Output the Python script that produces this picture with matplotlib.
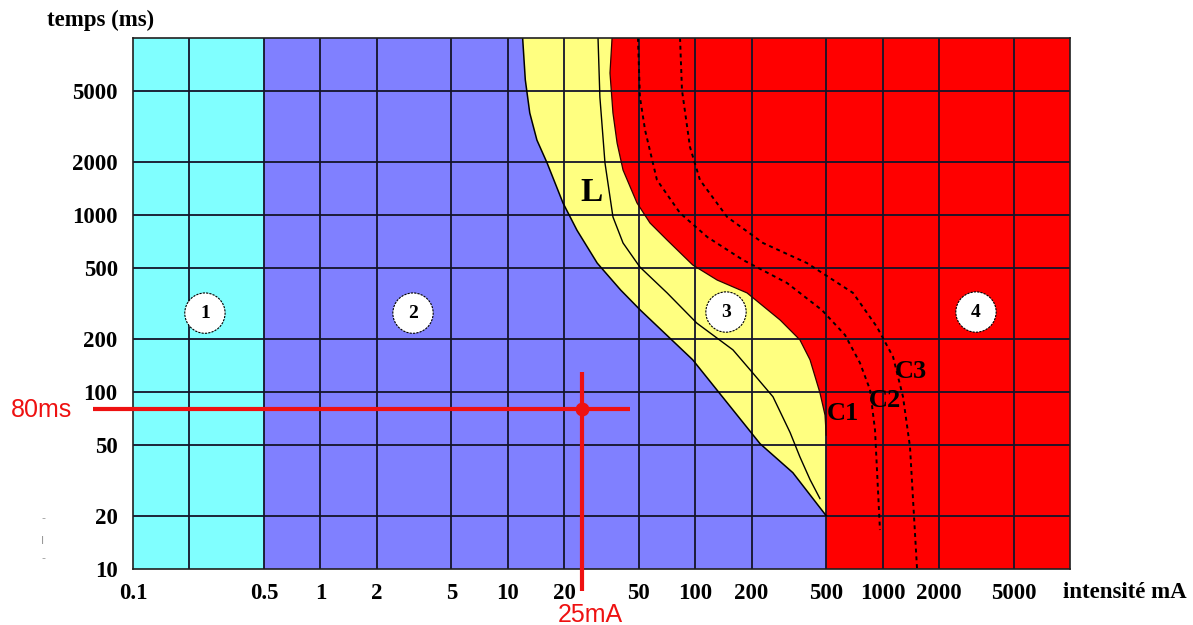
import matplotlib
matplotlib.use("Agg")
import matplotlib.pyplot as plt

# axis ticks (current in mA, time in ms)
x_ticks = [0.1, 0.5, 1, 2, 5, 10, 20, 50, 100, 200, 500, 1000, 2000, 5000]
x_labels = ["0.1", "0.5", "1", "2", "5", "10", "20", "50", "100", "200", "500",
            "1000", "2000", "5000"]
x_grid = [0.2, 0.5, 1, 2, 5, 10, 20, 50, 100, 200, 500, 1000, 2000, 5000]
y_ticks = [10, 20, 50, 100, 200, 500, 1000, 2000, 5000]
y_labels = ["10", "20", "50", "100", "200", "500", "1000", "2000", "5000"]
y_grid = [20, 50, 100, 200, 500, 1000, 2000, 5000]

# zone boundaries
zone1_limit = 0.5
b_ma = [12, 12.4, 13.1, 14.3, 16.2, 19.7, 23.4, 30, 40, 51, 97, 222, 332, 500]
b_ms = [10000, 5800, 3770, 2650, 1970, 1170, 820, 535, 377, 290, 152, 51, 35, 20]

c1_ma = [36, 35.1, 36.4, 38.3, 41.2, 48.9, 57.4, 70.8, 97, 131, 189, 284, 362, 410, 463, 493, 500]
c1_ms = [10000, 6340, 3770, 2550, 1795, 1170, 901, 722, 522, 429, 363, 255, 197, 152, 99, 74, 57]

L_ma = [30.3, 31, 33, 36.4, 41.2, 50.7, 70.8, 102, 159, 203, 260, 321, 362, 410, 463]
L_ms = [10000, 4640, 1970, 975, 695, 508, 363, 245, 173, 128, 94, 59, 43, 32, 25]

c2_ma = [49.5, 50.7, 54, 62.5, 83, 116, 180, 309, 475, 630, 757, 857, 911, 968]
c2_ms = [10000, 4640, 3020, 1577, 1026, 751, 557, 413, 290, 210, 146, 103, 61, 16.6]

c3_ma = [83, 85, 93.8, 106, 148, 230, 395, 695, 933, 1137, 1285, 1400, 1527]
c3_ms = [10000, 5080, 2420, 1577, 975, 695, 535, 363, 233, 158, 94, 49, 10]

zone_labels = ["1", "2", "3", "4"]
zone_x = [0.242, 3.12, 146, 3150]
zone_y = [279, 279, 283, 283]

curve_names = ["C1", "C2", "C3"]
curve_x = [615, 1030, 1418]
curve_y = [76, 90, 130]

# the worked example
ex_ma = 25
ex_ms = 80

serif = "Liberation Serif"

fig = plt.figure(figsize=(11.93, 6.25), dpi=100)
ax = fig.add_axes([133 / 1193, 56 / 625, 937 / 1193, 531 / 625])
ax.set_xscale("log")
ax.set_yscale("log")
xmin, xmax, ymin, ymax = 0.1, 10000, 10, 10000
ax.set_xlim(xmin, xmax)
ax.set_ylim(ymin, ymax)

# zones
ax.axvspan(xmin, zone1_limit, color="#80FFFF", lw=0, zorder=0)
ax.axvspan(zone1_limit, xmax, color="#8080FF", lw=0, zorder=0)
ax.fill(b_ma + [xmax, xmax], b_ms + [b_ms[-1], ymax], color="#FFFF80", lw=0, zorder=1)
ax.fill(c1_ma + [c1_ma[-1], xmax, xmax], c1_ms + [ymin, ymin, ymax], color="#FF0000", lw=0, zorder=2)

# grid
for g in x_grid:
    ax.axvline(g, color="#14142a", lw=1.3, zorder=3)
for g in y_grid:
    ax.axhline(g, color="#14142a", lw=1.3, zorder=3)

# curves
ax.plot(b_ma, b_ms, color="black", lw=1.1, zorder=4)
ax.plot(c1_ma, c1_ms, color="#300000", lw=0.9, zorder=4)
ax.plot(L_ma, L_ms, color="black", lw=1.0, zorder=4)
ax.plot(c2_ma, c2_ms, color="black", lw=1.4, ls=(0, (2, 2)), zorder=4)
ax.plot(c3_ma, c3_ms, color="black", lw=1.4, ls=(0, (2, 2)), zorder=4)

for s in ax.spines.values():
    s.set_color("#202020")
    s.set_linewidth(1.2)
    s.set_zorder(5)

ax.minorticks_off()
ax.set_xticks(x_ticks)
ax.set_xticklabels(x_labels)
ax.set_yticks(y_ticks)
ax.set_yticklabels(y_labels)
ax.tick_params(axis="both", length=0, labelsize=16.5)
ax.tick_params(axis="x", pad=10)
ax.tick_params(axis="y", pad=11)
for lab in ax.get_xticklabels() + ax.get_yticklabels():
    lab.set_fontfamily(serif)
    lab.set_fontweight("bold")

# zone numbers in circles
for lab, x, y in zip(zone_labels, zone_x, zone_y):
    ax.text(x, y, lab, ha="center", va="center", fontsize=14, fontweight="bold",
            family=serif, zorder=6,
            bbox=dict(boxstyle="circle,pad=0.6", fc="white", ec="black", lw=0.8, ls=(0, (2, 1))))

ax.text(28.1, 1332, "L", ha="center", va="center", fontsize=24, fontweight="bold",
        family=serif, zorder=6)
for lab, x, y in zip(curve_names, curve_x, curve_y):
    ax.text(x, y, lab, ha="center", va="center", fontsize=19, fontweight="bold",
            family=serif, zorder=6)

fig.text(47 / 1193, 1 - 20 / 625, "temps (ms)", ha="left", va="center", fontsize=16.5,
         fontweight="bold", family=serif)
fig.text(1063 / 1193, 1 - 592 / 625, "intensité mA", ha="left", va="center", fontsize=16.5,
         fontweight="bold", family=serif)

# stray marks on the left margin
for y, s in [(518, "-"), (541, "l"), (558, "-")]:
    fig.text(43 / 1193, 1 - y / 625, s, ha="center", va="center", fontsize=8, color="#999999")

# red annotation
ax.plot([0.0612, 44.9], [ex_ms, ex_ms], color="#EE1111", lw=3, zorder=7, clip_on=False,
        solid_capstyle="butt")
ax.plot([ex_ma, ex_ma], [130, 7.5], color="#EE1111", lw=3, zorder=7, clip_on=False,
        solid_capstyle="butt")
ax.plot([ex_ma], [ex_ms], "o", color="#EE1111", ms=9, zorder=8)
fig.text(41 / 1193, 1 - 410 / 625, "80ms", ha="center", va="center", fontsize=18,
         color="#EE1111", family="Liberation Sans")
fig.text(590 / 1193, 1 - 622 / 625, "25mA", ha="center", va="baseline", fontsize=18,
         color="#EE1111", family="Liberation Sans")

fig.savefig("out.png", dpi=100)
